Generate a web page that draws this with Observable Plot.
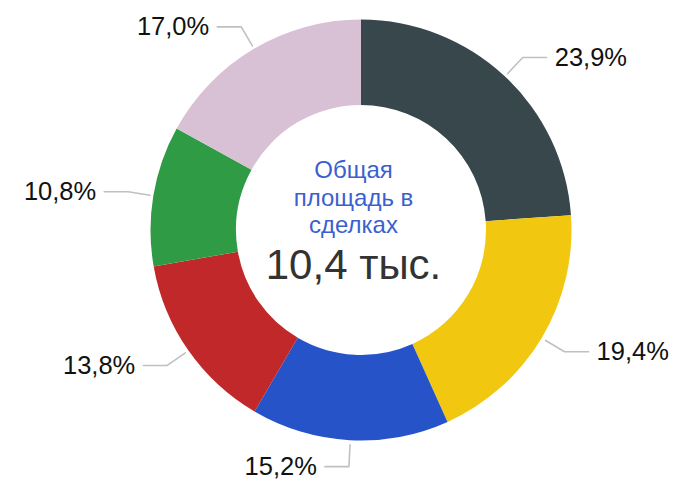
<!DOCTYPE html>
<html><head><meta charset="utf-8">
<script src="https://cdn.jsdelivr.net/npm/d3@7"></script>
<script src="https://cdn.jsdelivr.net/npm/@observablehq/plot@0.6"></script>
<style>body{margin:0;background:#fff;} svg{display:block}</style>
</head><body><div id="chart"></div>
<script>
const labels = ["23,9%", "19,4%", "15,2%", "13,8%", "10,8%", "17,0%"];
const shares = [23.9, 19.4, 15.2, 13.8, 10.8, 17.0];
const colors = ["#37474b", "#f1c80f", "#2753c9", "#c0282a", "#309b45", "#d8c1d5"];
const centerTitle = "Общая\nплощадь в\nсделках";
const centerValue = "10,4 тыс.";

const W = 676, H = 479, CX = 361, CY = 230, R = 210.5, R0 = 125;
const FONT = "Liberation Sans, Arial, Helvetica, sans-serif";

const pie = d3.pie().sort(null).startAngle(0)(shares);
const slices = pie.map((p, i) => ({...p, label: labels[i], color: colors[i], mid: (p.startAngle + p.endAngle) / 2}));
const pt = (a, r) => [r * Math.sin(a), r * Math.cos(a)];
const leaders = [];
slices.forEach((s, i) => {
  const [x0, y0] = pt(s.mid, R + 4), [x1, y1] = pt(s.mid, R + 26);
  const side = s.mid < Math.PI ? 1 : -1;
  leaders.push({k: i, x: x0, y: y0}, {k: i, x: x1, y: y1}, {k: i, x: x1 + side * 24, y: y1});
  s.side = side; s.tx = x1 + side * 32; s.ty = y1;
});

const slicesMark = (index, scales) => {
  const cx = scales.x(0), cy = scales.y(0);
  const r1 = scales.x(R) - cx, r0 = scales.x(R0) - cx;
  const arc = d3.arc().innerRadius(r0).outerRadius(r1);
  const g = d3.create("svg:g").attr("transform", `translate(${cx},${cy})`);
  g.selectAll("path").data(slices).join("path").attr("d", arc).attr("fill", d => d.color);
  return g.node();
};

const chart = Plot.plot({
  width: W, height: H, margin: 0,
  style: {fontFamily: FONT, background: "#fff"},
  x: {domain: [-CX, W - CX], axis: null},
  y: {domain: [-(H - CY), CY], axis: null},
  marks: [
    slicesMark,
    Plot.line(leaders, {x: "x", y: "y", z: "k", stroke: "#c0c0c0", strokeWidth: 1.6}),
    Plot.text(slices.filter(s => s.side > 0), {x: "tx", y: "ty", text: "label", textAnchor: "start", fontSize: 25.5, fill: "#111", fontFamily: FONT}),
    Plot.text(slices.filter(s => s.side < 0), {x: "tx", y: "ty", text: "label", textAnchor: "end", fontSize: 25.5, fill: "#111", fontFamily: FONT}),
    Plot.text([centerTitle], {x: () => 0, y: () => 0, text: d => d, dx: -8, dy: -33.7, fontSize: 24, lineHeight: 1.146, fill: "#3c5fcf", fontFamily: FONT}),
    Plot.text([centerValue], {x: () => 0, y: () => 0, text: d => d, dx: -8, dy: 35.5, fontSize: 42, fill: "#333", fontFamily: FONT})
  ]
});
document.getElementById("chart").appendChild(chart);
</script>
</body></html>
